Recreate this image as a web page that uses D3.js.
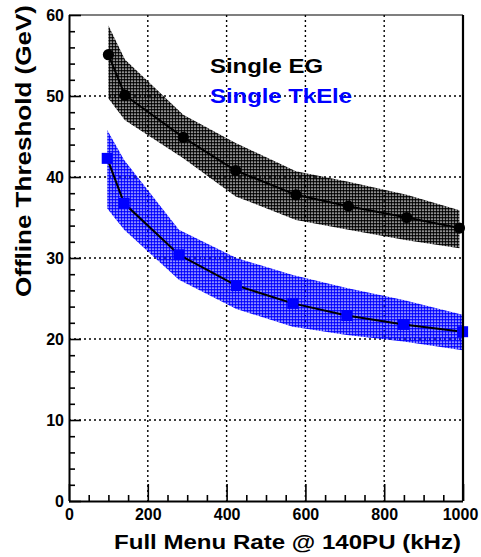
<!DOCTYPE html>
<html><head>
<meta charset="utf-8">
<script src="https://d3js.org/d3.v7.min.js"></script>
<style>
  body { margin: 0; background: #fff; }
  text { font-family: "Liberation Sans", Arial, sans-serif; font-weight: bold; }
</style>
</head>
<body>
<svg id="chart" width="481" height="557"></svg>
<script>
// Single EG (black circles)
const egRate = [100, 142, 290, 423, 576, 709, 857, 991];
const egThr  = [55.1, 50.1, 44.9, 40.8, 37.8, 36.4, 35.0, 33.7];
const egHi   = [58.7, 54.5, 47.7, 44.2, 40.7, 39.4, 37.8, 35.9];
const egLo   = [49.7, 47.0, 42.3, 37.6, 34.7, 33.5, 32.2, 31.2];

// Single TkEle (blue squares)
const tkRate = [97, 140, 279, 425, 568, 705, 849, 999];
const tkThr  = [42.3, 36.75, 30.4, 26.6, 24.4, 22.9, 21.8, 20.9];
const tkHi   = [45.8, 42.1, 33.5, 30.0, 27.9, 26.3, 24.8, 23.0];
const tkLo   = [36.1, 33.5, 27.3, 23.7, 21.5, 20.5, 19.7, 18.6];

const xTicks = [0, 200, 400, 600, 800, 1000];
const yTicks = [0, 10, 20, 30, 40, 50, 60];

const svg = d3.select("svg#chart");
const margin = {top: 15, left: 69, right: 18, bottom: 56};
const W = 481 - margin.left - margin.right;
const H = 557 - margin.top - margin.bottom;

const x = d3.scaleLinear().domain([0, 1000]).range([0, W]);
const y = d3.scaleLinear().domain([0, 60]).range([H, 0]);

// stipple fills for the bands
const defs = svg.append("defs");
[["dotBlack", "#000"], ["dotBlue", "#0000ff"]].forEach(([id, c]) => {
  let p = defs.append("pattern").attr("id", id)
    .attr("width", 3).attr("height", 3).attr("patternUnits", "userSpaceOnUse");
  p.append("circle").attr("cx", 1.5).attr("cy", 1.5).attr("r", 1.5).attr("fill", c);
});

const g = svg.append("g").attr("transform", "translate(" + margin.left + "," + margin.top + ")");

// grid
g.selectAll("line.vgrid").data(xTicks.filter(d => d > 0 && d < 1000)).enter()
  .append("line").attr("class", "vgrid")
  .attr("x1", d => x(d)).attr("x2", d => x(d)).attr("y1", 0).attr("y2", H)
  .attr("stroke", "#000").attr("stroke-width", 1.4).attr("stroke-dasharray", "2,3");
g.selectAll("line.hgrid").data(yTicks.filter(d => d > 0 && d < 60)).enter()
  .append("line").attr("class", "hgrid")
  .attr("x1", 0).attr("x2", W).attr("y1", d => y(d)).attr("y2", d => y(d))
  .attr("stroke", "#000").attr("stroke-width", 1.4).attr("stroke-dasharray", "2,3");

function series(rate, thr, hi, lo, color, fillId, square) {
  const pts = rate.map((r, i) => ({r: r, v: thr[i], hi: hi[i], lo: lo[i]}));
  const area = d3.area().x(d => x(d.r)).y0(d => y(d.lo)).y1(d => y(d.hi));
  g.append("path").attr("d", area(pts)).attr("fill", "url(#" + fillId + ")");
  const line = d3.line().x(d => x(d.r)).y(d => y(d.v));
  g.append("path").attr("d", line(pts)).attr("fill", "none")
    .attr("stroke", "#000").attr("stroke-width", 2);
  if (square) {
    g.selectAll(null).data(pts).enter().append("rect")
      .attr("x", d => x(d.r) - 5.5).attr("y", d => y(d.v) - 5.5)
      .attr("width", 11).attr("height", 11).attr("fill", color);
  } else {
    g.selectAll(null).data(pts).enter().append("circle")
      .attr("cx", d => x(d.r)).attr("cy", d => y(d.v)).attr("r", 5.6).attr("fill", color);
  }
}
series(egRate, egThr, egHi, egLo, "#000", "dotBlack", false);
series(tkRate, tkThr, tkHi, tkLo, "#0000ff", "dotBlue", true);

// frame top / right
g.append("line").attr("x1", 0).attr("x2", W).attr("y1", 0).attr("y2", 0)
  .attr("stroke", "#000").attr("stroke-width", 1.2);
g.append("line").attr("x1", W).attr("x2", W).attr("y1", 0).attr("y2", H)
  .attr("stroke", "#000").attr("stroke-width", 2.2);

// axes
const yMinor = d3.range(0, 61, 2).filter(d => d % 10 !== 0);
const xMinor = d3.range(0, 1001, 50).filter(d => d % 200 !== 0);

g.append("g").call(d3.axisLeft(y).tickValues(yMinor).tickSize(-6).tickFormat(""))
  .call(a => a.select(".domain").remove())
  .selectAll("line").attr("stroke-width", 1.6);
const ya = g.append("g").call(d3.axisLeft(y).tickValues(yTicks).tickSize(-12).tickPadding(5));
ya.select(".domain").attr("stroke-width", 2).attr("d", "M0.5," + H + "V0");
ya.selectAll("line").attr("stroke-width", 1.6);
ya.selectAll("text").attr("font-size", 16).attr("fill", "#000");

g.append("g").attr("transform", "translate(0," + H + ")")
  .call(d3.axisBottom(x).tickValues(xMinor).tickSize(-6).tickFormat(""))
  .call(a => a.select(".domain").remove())
  .selectAll("line").attr("stroke-width", 1.6);
const xa = g.append("g").attr("transform", "translate(0," + H + ")")
  .call(d3.axisBottom(x).tickValues(xTicks).tickSize(-17).tickPadding(8).tickFormat(d3.format("d")));
xa.select(".domain").attr("stroke-width", 2).attr("d", "M0," + 0.5 + "H" + W);
xa.selectAll("line").attr("stroke-width", 1.6);
xa.selectAll("text").attr("font-size", 16).attr("fill", "#000");
// last label sits against the right edge, nudge it in
xa.selectAll(".tick").filter(d => d === 1000).select("text").attr("dx", -3);

// titles
svg.append("text").attr("x", 461).attr("y", 549).attr("text-anchor", "end")
  .attr("font-size", 21).attr("textLength", 347).attr("lengthAdjust", "spacingAndGlyphs")
  .text("Full Menu Rate @ 140PU (kHz)");
svg.append("text").attr("transform", "translate(31,5) rotate(-90)")
  .attr("text-anchor", "end").attr("font-size", 22)
  .attr("textLength", 292).attr("lengthAdjust", "spacingAndGlyphs")
  .text("Offline Threshold (GeV)");

// legend
svg.append("text").attr("x", 210).attr("y", 73).attr("font-size", 21)
  .attr("textLength", 113).attr("lengthAdjust", "spacingAndGlyphs")
  .attr("fill", "#000").text("Single EG");
svg.append("text").attr("x", 210).attr("y", 103).attr("font-size", 21)
  .attr("textLength", 142).attr("lengthAdjust", "spacingAndGlyphs")
  .attr("fill", "#0000ff").text("Single TkEle");
</script>
</body>
</html>
